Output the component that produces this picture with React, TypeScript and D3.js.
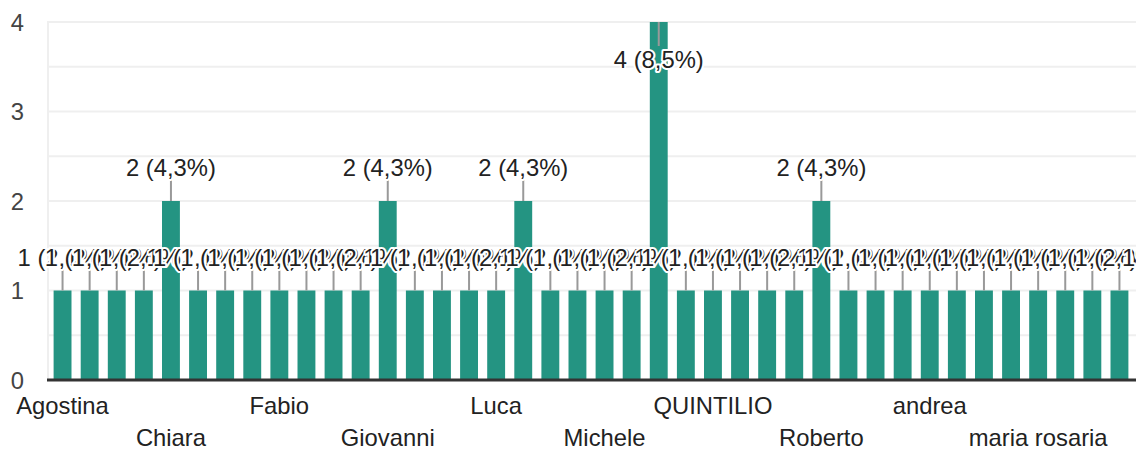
import React from "react";
import * as d3 from "d3";

const categories = [
  "Agostina", "Alessandra", "Anna", "Antonio", "Chiara", "Claudia", "Daniela", "Elena",
  "Fabio", "Francesca", "Franco", "Giorgio", "Giovanni", "Giulia", "Giuseppe", "Laura",
  "Luca", "Marco", "Maria", "Mario", "Michele", "Paola", "Paolo", "Pietro",
  "QUINTILIO", "Raffaele", "Riccardo", "Rita", "Roberto", "Rosa", "Sara", "Stefano",
  "andrea", "anna", "francesco", "giuseppe", "maria rosaria", "marco", "paolo", "simona",
];
const values = [
  1, 1, 1, 1, 2, 1, 1, 1,
  1, 1, 1, 1, 2, 1, 1, 1,
  1, 2, 1, 1, 1, 1, 4, 1,
  1, 1, 1, 1, 2, 1, 1, 1,
  1, 1, 1, 1, 1, 1, 1, 1,
];
const yTicks = [0, 1, 2, 3, 4];
const gridLines = [0.5, 1, 1.5, 2, 2.5, 3, 3.5, 4];
const total = 47;

const W = 1136;
const H = 450;
const FONT = "'Liberation Sans', Arial, sans-serif";
const FS = 23.8;

export default function App() {
  const x = d3
    .scaleBand<string>()
    .domain(categories)
    .range([49, 1133])
    .paddingInner(0.34)
    .paddingOuter(0.17);
  const y = d3.scaleLinear().domain([0, 4]).range([380, 22]);
  const bw = x.bandwidth();
  const fmt = (v: number) =>
    `${v} (${((v / total) * 100).toFixed(1).replace(".", ",")}%)`;

  return (
    <svg
      width={W}
      height={H}
      style={{ position: "absolute", left: 0, top: 0, background: "#fff" }}
      fontFamily={FONT}
    >
      {gridLines.map((g) => (
        <line key={g} x1={48} x2={W} y1={y(g)} y2={y(g)} stroke="#efefef" strokeWidth={2} />
      ))}
      <line x1={48} x2={48} y1={y(4) - 1} y2={y(0)} stroke="#efefef" strokeWidth={2} />
      {yTicks.map((t) => (
        <text key={t} x={24} y={y(t)} dy="0.36em" textAnchor="end" fontSize={FS} fill="#444">
          {t}
        </text>
      ))}
      {categories.map((c, i) => (
        <rect key={c} x={x(c)} y={y(values[i])} width={bw} height={y(0) - y(values[i])} fill="#249482" />
      ))}
      <line x1={47} x2={W} y1={y(0)} y2={y(0)} stroke="#333" strokeWidth={3} />
      {categories.map((c, i) => {
        const cx = (x(c) as number) + bw / 2;
        const top = y(values[i]);
        const inside = values[i] >= 4;
        return (
          <line
            key={c}
            x1={cx}
            x2={cx}
            y1={inside ? top : top - 21}
            y2={inside ? top + 24 : top}
            stroke="#999"
            strokeWidth={2}
          />
        );
      })}
      {categories.map((c, i) => {
        const cx = (x(c) as number) + bw / 2;
        const top = y(values[i]);
        const inside = values[i] >= 4;
        return (
          <text
            key={c}
            x={cx}
            y={inside ? top + 46 : top - 25}
            textAnchor="middle"
            fontSize={FS}
            fill="#222"
            stroke="#fff"
            strokeWidth={4}
            strokeLinejoin="round"
            paintOrder="stroke"
          >
            {fmt(values[i])}
          </text>
        );
      })}
      {categories.map((c, i) =>
        i % 4 === 0 ? (
          <text
            key={c}
            x={(x(c) as number) + bw / 2}
            y={(i / 4) % 2 === 0 ? 414 : 446}
            textAnchor="middle"
            fontSize={FS}
            fill="#222"
          >
            {c}
          </text>
        ) : null
      )}
    </svg>
  );
}
